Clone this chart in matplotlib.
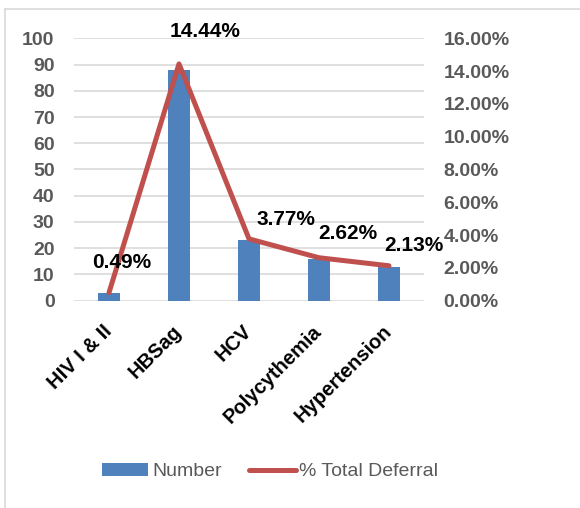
import matplotlib
matplotlib.use("Agg")
import matplotlib.pyplot as plt
from matplotlib.patches import Patch
from matplotlib.lines import Line2D
from matplotlib.ticker import FuncFormatter

categories = ["HIV I & II", "HBSag", "HCV", "Polycythemia", "Hypertension"]
numbers = [3, 88, 23, 16, 13]
pct_deferral = [0.49, 14.44, 3.77, 2.62, 2.13]
left_ticks = list(range(0, 101, 10))
right_ticks = [0, 2, 4, 6, 8, 10, 12, 14, 16]

BAR = "#4F81BD"
LINE = "#C0504D"
GRAY = "#595959"
FONT = "Liberation Sans"

plt.rcParams['font.family'] = [FONT, 'DejaVu Sans']

fig = plt.figure(figsize=(5.8, 5.08), dpi=100)
ax = fig.add_axes([74/580, 207.3/508, 350/580, 262.4/508])
x = list(range(len(categories)))
ax.bar(x, numbers, width=0.31, color=BAR, zorder=2)
ax.set_xlim(-0.5, len(categories) - 0.5)
ax.set_ylim(0, 100)
ax.set_yticks(left_ticks)
ax.yaxis.grid(True, color="#D9D9D9", linewidth=1.2, zorder=0)
ax.set_axisbelow(True)
for s in ax.spines.values():
    s.set_visible(False)
ax.tick_params(axis='y', length=0, pad=14, labelsize=14, labelcolor=GRAY)
for t in ax.get_yticklabels():
    t.set_fontweight('bold')
ax.set_xticks(x)
ax.set_xticklabels(categories, rotation=45, ha='right', va='center',
                   rotation_mode='anchor', fontsize=14.5, fontweight='bold')
ax.tick_params(axis='x', length=0, pad=20)

ax2 = ax.twinx()
ax2.set_ylim(0, 16)
ax2.set_yticks(right_ticks)
ax2.yaxis.set_major_formatter(FuncFormatter(lambda v, p: f"{v:.2f}%"))
for s in ax2.spines.values():
    s.set_visible(False)
ax2.tick_params(axis='y', length=0, pad=14, labelsize=14, labelcolor=GRAY)
for t in ax2.get_yticklabels():
    t.set_fontweight('bold')
ax2.plot(x, pct_deferral, color=LINE, linewidth=3.6, solid_capstyle='round', zorder=3)

offsets = [(13, 30), (26, 32), (37, 19), (29, 24), (25, 20)]
for xi, v, off in zip(x, pct_deferral, offsets):
    ax2.annotate(f"{v:.2f}%", (xi, v), xytext=off, textcoords='offset pixels',
                 ha='center', va='center', fontsize=15, fontweight='bold', color='black')

handles = [Patch(facecolor=BAR, edgecolor='none'),
           Line2D([0], [0], color=LINE, linewidth=3.6, solid_capstyle='round')]
leg = fig.legend(handles, ["Number", "% Total Deferral"], loc='center',
                 bbox_to_anchor=(270/580, 1 - 471.5/508), ncol=2, frameon=False,
                 fontsize=14, handlelength=2.4, handleheight=0.7, handletextpad=0.2,
                 columnspacing=1.4, labelcolor=GRAY)

# chart area border (top and left visible)
fig.add_artist(Line2D([5/580, 5/580], [0, 1 - 9/508], transform=fig.transFigure,
                      color="#D9D9D9", linewidth=1.2))
fig.add_artist(Line2D([5/580, 1], [1 - 9/508, 1 - 9/508], transform=fig.transFigure,
                      color="#D9D9D9", linewidth=1.2))

fig.savefig("out.png", dpi=100)
